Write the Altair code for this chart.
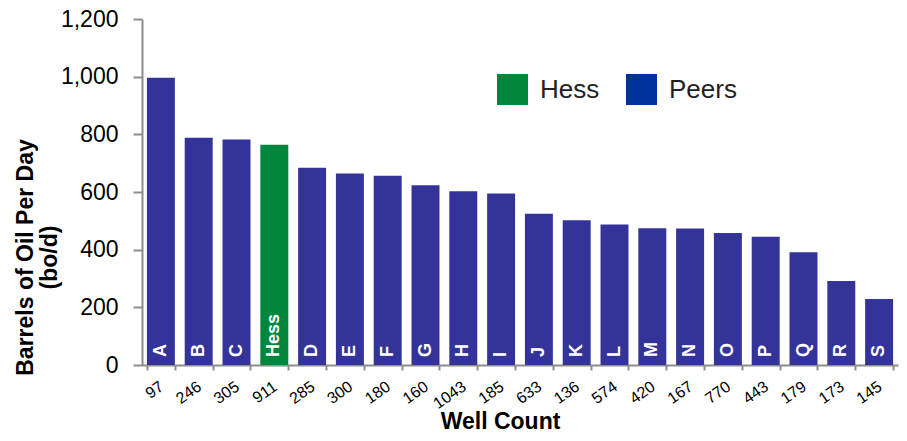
import altair as alt
import pandas as pd

names = ["A", "B", "C", "Hess", "D", "E", "F", "G", "H", "I",
         "J", "K", "L", "M", "N", "O", "P", "Q", "R", "S"]
wells = ["97", "246", "305", "911", "285", "300", "180", "160", "1043", "185",
         "633", "136", "574", "420", "167", "770", "443", "179", "173", "145"]
oil = [996, 788, 782, 764, 684, 664, 656, 623, 603, 595,
       525, 502, 487, 474, 473, 458, 445, 391, 291, 229]
groups = ["Hess" if n == "Hess" else "Peers" for n in names]
legend_domain = ["Hess", "Peers"]
bar_colors = ["#00873D", "#333399"]
legend_colors = ["#00873D", "#003399"]
y_ticks = [0, 200, 400, 600, 800, 1000, 1200]

df = pd.DataFrame({"name": names, "wells": wells, "oil": oil,
                   "group": groups, "series": groups})

FONT = "Arial, Liberation Sans, sans-serif"
AXC = "#8c8c8c"
W, H = 756, 346

x = alt.X(
    "wells:N",
    sort=wells,
    scale=alt.Scale(paddingInner=0.26, paddingOuter=0.13),
    axis=alt.Axis(
        title="Well Count",
        labelAngle=-35,
        labelAlign="right",
        labelBaseline="top",
        labelFontSize=16,
        labelPadding=8,
        labelOffset=-4,
        labelColor="#000000",
        tickSize=5,
        tickBand="extent",
        titleFontSize=23,
        titleFontWeight="bold",
        titleX=358,
        titleY=63,
        titleAlign="center",
        titleBaseline="alphabetic",
        titleColor="#000000",
    ),
)

y = alt.Y(
    "oil:Q",
    scale=alt.Scale(domain=[0, 1200]),
    axis=alt.Axis(
        values=y_ticks,
        format=",d",
        title=["Barrels of Oil Per Day", "(bo/d)"],
        labelFontSize=23,
        labelColor="#000000",
        labelPadding=15,
        tickSize=9,
        titleFontSize=23,
        titleFontWeight="bold",
        titleLineHeight=24,
        titleX=-128,
        titleY=238,
        titleAlign="center",
        titleBaseline="top",
        titleColor="#000000",
    ),
)

bars = alt.Chart(df).mark_bar().encode(
    x=x,
    y=y,
    color=alt.Color("group:N", scale=alt.Scale(domain=legend_domain, range=bar_colors), legend=None),
)

legend_layer = alt.Chart(df).mark_bar().encode(
    x=x,
    y=alt.datum(0),
    y2=alt.datum(0),
    fill=alt.Fill(
        "series:N",
        scale=alt.Scale(domain=legend_domain, range=legend_colors),
        legend=alt.Legend(
            title=None,
            orient="none",
            legendX=355,
            legendY=55,
            direction="horizontal",
            symbolType="square",
            symbolSize=961,
            symbolStrokeWidth=0,
            symbolOpacity=1,
            labelFontSize=26,
            labelOffset=12,
            columnPadding=26,
            padding=0,
            labelColor="#222222",
            labelFont=FONT,
        ),
    ),
)

letters = alt.Chart(df).mark_text(
    angle=270, align="left", baseline="middle", dx=8,
    fontSize=18, fontWeight="bold", color="white", font=FONT,
).encode(x=x, y=alt.datum(0), text="name:N")

chart = alt.layer(bars, legend_layer, letters).resolve_scale(
    color="independent", fill="independent"
).properties(
    width=W,
    height=H,
    autosize=alt.AutoSizeParams(type="none"),
    padding={"left": 134, "top": 11, "right": 1, "bottom": 68},
).configure(font=FONT).configure_view(stroke=None).configure_axis(
    grid=False,
    domainColor=AXC,
    domainWidth=2,
    tickColor=AXC,
    tickWidth=2,
    labelFont=FONT,
    titleFont=FONT,
)

chart.save("out.html", embed_options={"renderer": "svg", "actions": False})
